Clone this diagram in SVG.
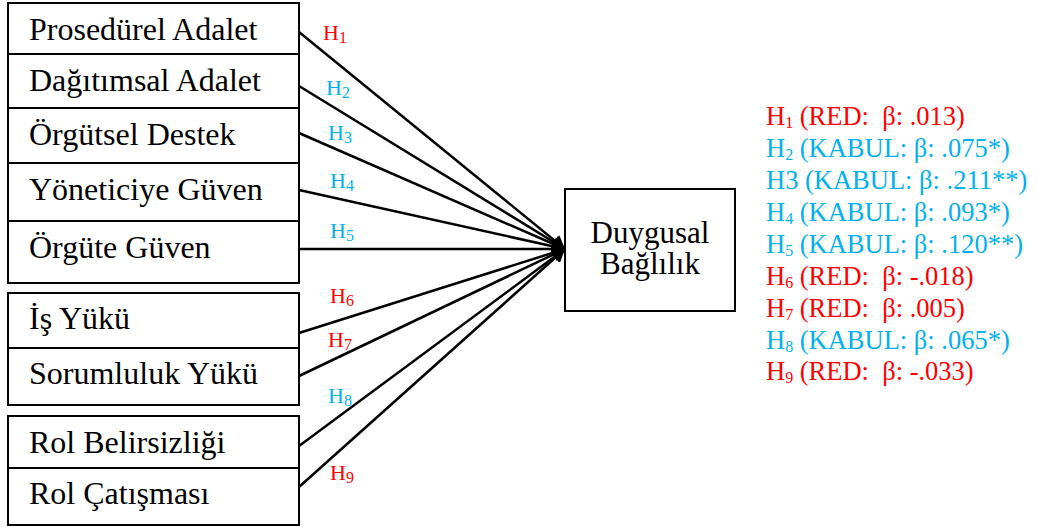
<svg xmlns="http://www.w3.org/2000/svg" width="1037" height="527" viewBox="0 0 1037 527">
  <style>
    .box { fill: #ffffff; stroke: #000000; stroke-width: 2; }
    .lbl { font-family: "Liberation Serif", "Times New Roman", serif; font-size: 32px; fill: #000000; }
    .dv { font-family: "Liberation Serif", "Times New Roman", serif; font-size: 31px; fill: #000000; }
    .hyp { font-family: "Liberation Serif", "Times New Roman", serif; font-size: 22px; }
    .res { font-family: "Liberation Serif", "Times New Roman", serif; font-size: 26.5px; white-space: pre; }
    .sub { font-size: 16px; }
    .red { fill: #ff0000; }
    .blue { fill: #00b0f0; }
    .edge { stroke: #000000; stroke-width: 2.5; fill: none; marker-end: url(#head); }
  </style>
  <defs>
    <marker id="head" markerUnits="userSpaceOnUse" markerWidth="14" markerHeight="14" refX="13" refY="7" orient="auto">
      <path d="M0,0 L13,7 L0,14 z" fill="#000000"/>
    </marker>
  </defs>
  <rect width="1037" height="527" fill="#ffffff"/>

  <!-- independent variables -->
  <g id="prosedurel-adalet">
    <rect class="box" x="8" y="3" width="291" height="51"/>
    <text class="lbl" x="29" y="39.5">Prosedürel Adalet</text>
  </g>
  <g id="dagitimsal-adalet">
    <rect class="box" x="8" y="54" width="291" height="54"/>
    <text class="lbl" x="29" y="91">Dağıtımsal Adalet</text>
  </g>
  <g id="orgutsel-destek">
    <rect class="box" x="8" y="108" width="291" height="55"/>
    <text class="lbl" x="29" y="145">Örgütsel Destek</text>
  </g>
  <g id="yoneticiye-guven">
    <rect class="box" x="8" y="163" width="291" height="58"/>
    <text class="lbl" x="29" y="199.5">Yöneticiye Güven</text>
  </g>
  <g id="orgute-guven">
    <rect class="box" x="8" y="221" width="291" height="62"/>
    <text class="lbl" x="29" y="258">Örgüte Güven</text>
  </g>
  <g id="is-yuku">
    <rect class="box" x="8" y="293" width="291" height="55"/>
    <text class="lbl" x="29" y="328.5">İş Yükü</text>
  </g>
  <g id="sorumluluk-yuku">
    <rect class="box" x="8" y="348" width="291" height="57"/>
    <text class="lbl" x="29" y="383.5">Sorumluluk Yükü</text>
  </g>
  <g id="rol-belirsizligi">
    <rect class="box" x="8" y="416" width="291" height="52"/>
    <text class="lbl" x="29" y="452.5">Rol Belirsizliği</text>
  </g>
  <g id="rol-catismasi">
    <rect class="box" x="8" y="468" width="291" height="57"/>
    <text class="lbl" x="29" y="503.5">Rol Çatışması</text>
  </g>

  <!-- dependent variable (two-line label) -->
  <g id="duygusal-baglilik">
    <rect class="box" x="565" y="189" width="170" height="122"/>
    <text class="dv" text-anchor="middle"><tspan x="650" y="243">Duygusal</tspan><tspan x="650" y="274">Bağlılık</tspan></text>
  </g>

  <!-- hypothesis paths -->
  <g id="connectors">
    <line class="edge" x1="299" y1="32" x2="565" y2="249"/>
    <line class="edge" x1="299" y1="86" x2="565" y2="249"/>
    <line class="edge" x1="299" y1="133" x2="565" y2="249"/>
    <line class="edge" x1="299" y1="190" x2="565" y2="249"/>
    <line class="edge" x1="299" y1="249" x2="565" y2="249"/>
    <line class="edge" x1="299" y1="333" x2="565" y2="249"/>
    <line class="edge" x1="299" y1="376" x2="565" y2="249"/>
    <line class="edge" x1="299" y1="446" x2="565" y2="249"/>
    <line class="edge" x1="299" y1="487" x2="565" y2="249"/>
  </g>

  <!-- path labels -->
  <g id="path-labels">
    <text class="hyp red" x="323" y="40">H<tspan class="sub" dy="3">1</tspan></text>
    <text class="hyp blue" x="326" y="95">H<tspan class="sub" dy="3">2</tspan></text>
    <text class="hyp blue" x="328" y="140">H<tspan class="sub" dy="3">3</tspan></text>
    <text class="hyp blue" x="330" y="188">H<tspan class="sub" dy="3">4</tspan></text>
    <text class="hyp blue" x="330" y="238">H<tspan class="sub" dy="3">5</tspan></text>
    <text class="hyp red" x="330" y="303">H<tspan class="sub" dy="3">6</tspan></text>
    <text class="hyp red" x="328" y="347">H<tspan class="sub" dy="3">7</tspan></text>
    <text class="hyp blue" x="328" y="403">H<tspan class="sub" dy="3">8</tspan></text>
    <text class="hyp red" x="330" y="480">H<tspan class="sub" dy="3">9</tspan></text>
  </g>

  <!-- results list -->
  <g id="results">
    <text class="res red" x="766" y="125" xml:space="preserve">H<tspan class="sub" dy="3">1</tspan><tspan dy="-3"> (RED:  β: .013)</tspan></text>
    <text class="res blue" x="766" y="157" xml:space="preserve">H<tspan class="sub" dy="3">2</tspan><tspan dy="-3"> (KABUL: β: .075*)</tspan></text>
    <text class="res blue" x="766" y="189" xml:space="preserve">H3 (KABUL: β: .211**)</text>
    <text class="res blue" x="766" y="221" xml:space="preserve">H<tspan class="sub" dy="3">4</tspan><tspan dy="-3"> (KABUL: β: .093*)</tspan></text>
    <text class="res blue" x="766" y="253" xml:space="preserve">H<tspan class="sub" dy="3">5</tspan><tspan dy="-3"> (KABUL: β: .120**)</tspan></text>
    <text class="res red" x="766" y="285" xml:space="preserve">H<tspan class="sub" dy="3">6</tspan><tspan dy="-3"> (RED:  β: -.018)</tspan></text>
    <text class="res red" x="766" y="317" xml:space="preserve">H<tspan class="sub" dy="3">7</tspan><tspan dy="-3"> (RED:  β: .005)</tspan></text>
    <text class="res blue" x="766" y="349" xml:space="preserve">H<tspan class="sub" dy="3">8</tspan><tspan dy="-3"> (KABUL: β: .065*)</tspan></text>
    <text class="res red" x="766" y="380" xml:space="preserve">H<tspan class="sub" dy="3">9</tspan><tspan dy="-3"> (RED:  β: -.033)</tspan></text>
  </g>
</svg>
